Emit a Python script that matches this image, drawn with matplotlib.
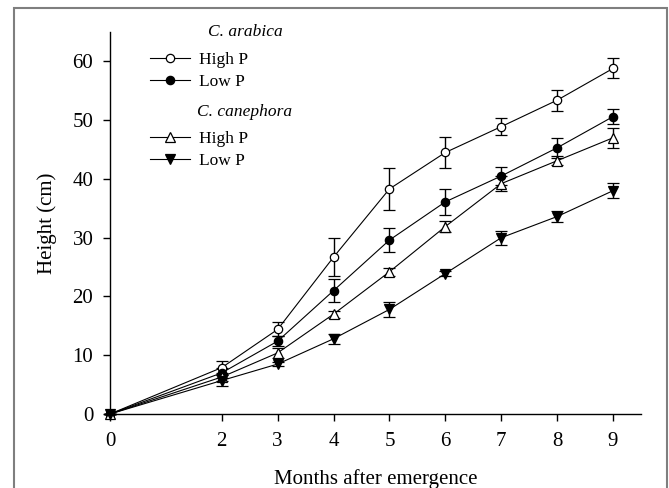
import matplotlib
matplotlib.use('Agg')
import matplotlib.pyplot as plt
from matplotlib.patches import Rectangle

# data
months = [0, 2, 3, 4, 5, 6, 7, 8, 9]

ara_high = [0, 7.9, 14.4, 26.7, 38.3, 44.5, 48.9, 53.4, 58.8]
ara_high_err = [0, 1.2, 1.2, 3.2, 3.6, 2.6, 1.5, 1.8, 1.7]

ara_low = [0, 7.0, 12.4, 21.0, 29.6, 36.1, 40.5, 45.3, 50.6]
ara_low_err = [0, 0.8, 0.9, 2.0, 2.0, 2.2, 1.5, 1.7, 1.3]

can_high = [0, 6.3, 10.4, 17.0, 24.2, 31.9, 39.2, 43.1, 47.0]
can_high_err = [0, 0.7, 0.8, 0.6, 0.7, 0.9, 1.3, 0.8, 1.7]

can_low = [0, 5.7, 8.5, 12.8, 17.8, 23.9, 30.0, 33.6, 38.0]
can_low_err = [0, 1.0, 0.4, 0.9, 1.3, 0.5, 1.2, 1.0, 1.3]

xticks = [0, 2, 3, 4, 5, 6, 7, 8, 9]
yticks = [0, 10, 20, 30, 40, 50, 60]

plt.rcParams['font.family'] = ['Liberation Serif', 'DejaVu Serif']

fig = plt.figure(figsize=(6.69, 4.88), dpi=100)
ax = fig.add_axes([0.1644, 0.1516, 0.7937, 0.7828])

# grey frame around the whole figure
fig.patches.append(Rectangle((14 / 669, -0.05), 653 / 669, 0.05 + 480 / 488,
                             transform=fig.transFigure, fill=False,
                             edgecolor='#7f7f7f', linewidth=1.5))


def draw(y, err, marker, face, ms):
    line = ax.errorbar(months, y, yerr=err, color='black', marker=marker,
                       markerfacecolor=face, markeredgecolor='black',
                       markersize=ms, markeredgewidth=0.9, linewidth=0.8,
                       elinewidth=1.0, capsize=4, capthick=1.1, clip_on=False)
    return line


h1 = draw(ara_high, ara_high_err, 'o', 'white', 6)
h2 = draw(ara_low, ara_low_err, 'o', 'black', 6)
h3 = draw(can_high, can_high_err, '^', 'white', 6.5)
h4 = draw(can_low, can_low_err, 'v', 'black', 6.5)

ax.set_xlim(0, 9.5)
ax.set_ylim(0, 65)
ax.set_xticks(xticks)
ax.set_yticks(yticks)
ax.spines['top'].set_visible(False)
ax.spines['right'].set_visible(False)
ax.spines['left'].set_linewidth(1.0)
ax.spines['bottom'].set_linewidth(1.0)
ax.tick_params(direction='out', length=5, width=1.0, labelsize=15)
ax.tick_params(axis='y', pad=7)
ax.tick_params(axis='x', pad=8)

ax.set_xlabel('Months after emergence', fontsize=15, labelpad=13)
ax.set_ylabel('Height (cm)', fontsize=15, labelpad=11)

# legends: two groups with italic headings
leg_kw = dict(frameon=False, fontsize=12.5, handlelength=2.3, handletextpad=0.5,
              labelspacing=0.35, borderpad=0, borderaxespad=0,
              bbox_transform=fig.transFigure, loc='upper left')

leg1 = ax.legend([h1[0], h2[0]], ['High P', 'Low P'],
                 bbox_to_anchor=(150 / 669, 1 - 52 / 488), **leg_kw)
ax.add_artist(leg1)
leg2 = ax.legend([h3[0], h4[0]], ['High P', 'Low P'],
                 bbox_to_anchor=(150 / 669, 1 - 131 / 488), **leg_kw)

fig.text(208 / 669, 1 - 32 / 488, 'C. arabica', fontsize=12.5, style='italic',
         va='center', ha='left')
fig.text(197 / 669, 1 - 112 / 488, 'C. canephora', fontsize=12.5, style='italic',
         va='center', ha='left')

fig.savefig('out.png', dpi=100)
